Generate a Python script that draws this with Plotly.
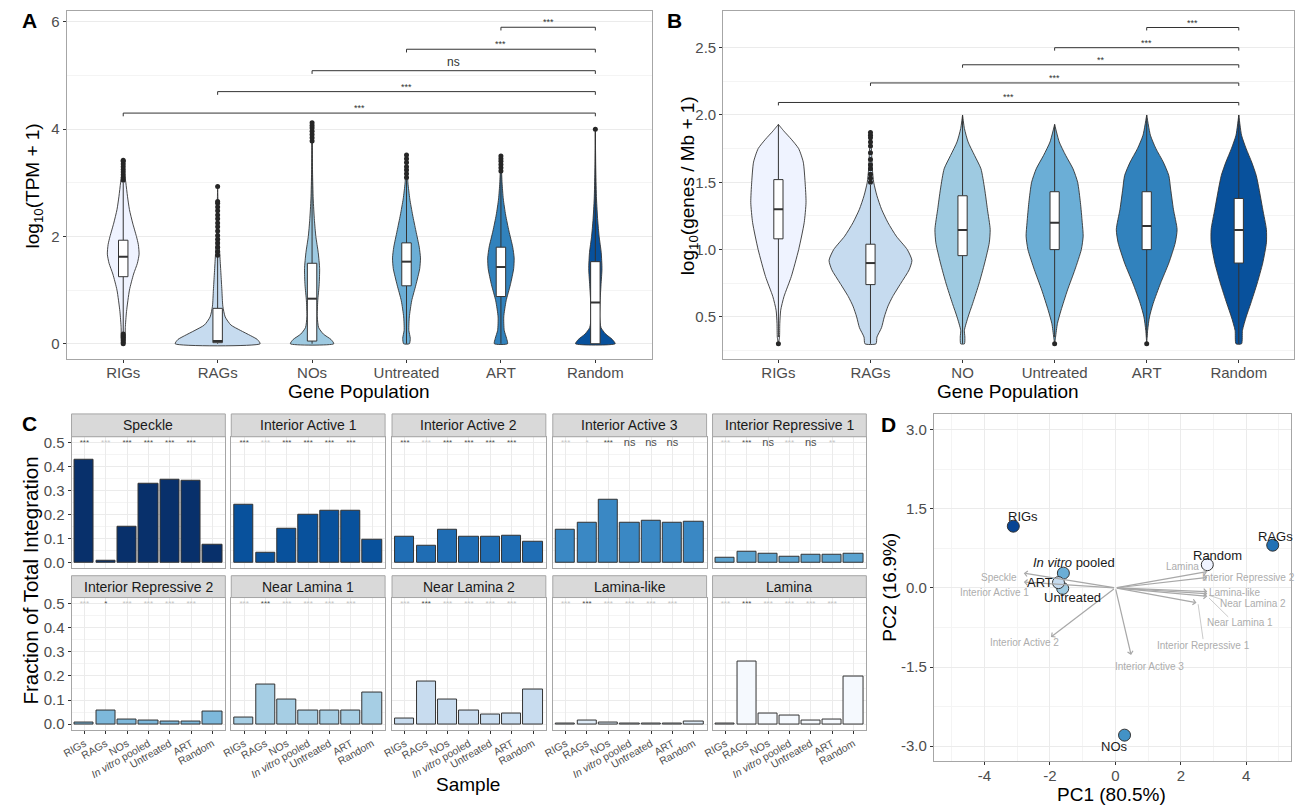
import plotly.graph_objects as go

# ---------------- DATA ----------------
A_groups = ["RIGs", "RAGs", "NOs", "Untreated", "ART", "Random"]
B_groups = ["RIGs", "RAGs", "NO", "Untreated", "ART", "Random"]
AB_colors = ["#EFF3FF", "#C6DBEF", "#9ECAE1", "#6BAED6", "#3182BD", "#08519C"]

# Panel A violin profiles (value level, half-width in category units)
A_vy = {
    "RIGs": [0.0, 0.1, 0.3, 0.6, 1.0, 1.3, 1.5, 1.67, 1.85, 2.0, 2.25, 2.5, 2.75, 3.0, 3.2, 3.42],
    "RAGs": [0.0, 0.08, 0.15, 0.25, 0.35, 0.5, 0.7, 1.0, 1.3, 1.6, 2.0, 2.5, 2.93],
    "NOs": [0.0, 0.08, 0.18, 0.3, 0.5, 0.8, 1.1, 1.4, 1.7, 2.0, 2.3, 2.7, 3.2, 3.7, 4.12],
    "Untreated": [0.0, 0.1, 0.25, 0.5, 0.8, 1.1, 1.4, 1.6, 1.8, 2.1, 2.4, 2.7, 3.0, 3.3, 3.52],
    "ART": [0.0, 0.1, 0.25, 0.5, 0.8, 1.1, 1.4, 1.6, 1.8, 2.1, 2.4, 2.7, 3.0, 3.3, 3.5],
    "Random": [0.0, 0.08, 0.18, 0.3, 0.5, 0.8, 1.1, 1.4, 1.7, 2.0, 2.3, 2.7, 3.2, 3.6, 4.0],
}
A_vw = {
    "RIGs": [0.008, 0.02, 0.022, 0.035, 0.066, 0.11, 0.15, 0.168, 0.16, 0.14, 0.1, 0.066, 0.045, 0.028, 0.012, 0.0],
    "RAGs": [0.45, 0.42, 0.35, 0.24, 0.14, 0.08, 0.055, 0.045, 0.035, 0.025, 0.012, 0.005, 0.0],
    "NOs": [0.23, 0.2, 0.12, 0.07, 0.055, 0.06, 0.075, 0.08, 0.065, 0.04, 0.025, 0.012, 0.005, 0.002, 0.0],
    "Untreated": [0.03, 0.04, 0.025, 0.03, 0.055, 0.1, 0.14, 0.148, 0.135, 0.1, 0.065, 0.035, 0.015, 0.006, 0.0],
    "ART": [0.07, 0.06, 0.035, 0.03, 0.055, 0.1, 0.135, 0.14, 0.125, 0.085, 0.05, 0.025, 0.012, 0.005, 0.0],
    "Random": [0.21, 0.18, 0.11, 0.06, 0.045, 0.05, 0.06, 0.07, 0.062, 0.04, 0.025, 0.012, 0.005, 0.002, 0.0],
}
A_lf = [0.2, 0.0, 0.0, 0.0, 0.0, 0.0]
A_q1 = [1.25, 0.02, 0.05, 1.08, 0.88, 0.0]
A_med = [1.62, 0.05, 0.84, 1.53, 1.43, 0.77]
A_q3 = [1.93, 0.66, 1.5, 1.88, 1.8, 1.53]
A_uf = [3.0, 1.62, 3.75, 3.05, 3.2, 3.95]
A_out = {
    "RIGs": [3.05, 3.1, 3.15, 3.2, 3.25, 3.3, 3.35, 3.4, 3.42, 0.0, 0.03, 0.06, 0.09, 0.12, 0.15, 0.18],
    "RAGs": [1.65, 1.72, 1.8, 1.88, 1.95, 2.02, 2.1, 2.18, 2.25, 2.33, 2.4, 2.48, 2.55, 2.62, 2.65, 2.93],
    "NOs": [3.78, 3.84, 3.9, 3.96, 4.02, 4.07, 4.12],
    "Untreated": [3.1, 3.17, 3.24, 3.3, 3.38, 3.45, 3.52],
    "ART": [3.22, 3.28, 3.34, 3.4, 3.45, 3.5],
    "Random": [4.0],
}
A_br_start = [1, 2, 3, 4, 5]
A_br_y = [4.30, 4.70, 5.09, 5.49, 5.90]
A_br_lab = ["***", "***", "ns", "***", "***"]

# Panel B
B_vy = {
    "RIGs": [0.3, 0.35, 0.45, 0.55, 0.65, 0.8, 1.0, 1.2, 1.35, 1.5, 1.65, 1.75, 1.82, 1.88, 1.93],
    "RAGs": [0.3, 0.35, 0.42, 0.5, 0.58, 0.65, 0.75, 0.85, 0.92, 1.0, 1.1, 1.2, 1.3, 1.4, 1.5, 1.6, 1.75, 1.87],
    "NO": [0.3, 0.35, 0.4, 0.5, 0.6, 0.75, 0.9, 1.05, 1.15, 1.3, 1.45, 1.6, 1.7, 1.8, 1.9, 2.0],
    "Untreated": [0.3, 0.35, 0.45, 0.55, 0.7, 0.85, 1.0, 1.1, 1.2, 1.35, 1.5, 1.6, 1.7, 1.8, 1.93],
    "ART": [0.3, 0.4, 0.5, 0.6, 0.75, 0.9, 1.05, 1.15, 1.3, 1.45, 1.55, 1.65, 1.75, 1.85, 2.0],
    "Random": [0.3, 0.4, 0.5, 0.6, 0.75, 0.9, 1.05, 1.15, 1.3, 1.45, 1.55, 1.65, 1.75, 1.85, 2.0],
}
B_vw = {
    "RIGs": [0.0, 0.012, 0.015, 0.025, 0.06, 0.14, 0.22, 0.28, 0.30, 0.29, 0.27, 0.22, 0.14, 0.06, 0.0],
    "RAGs": [0.06, 0.07, 0.12, 0.15, 0.19, 0.24, 0.33, 0.42, 0.45, 0.40, 0.28, 0.19, 0.12, 0.07, 0.035, 0.02, 0.01, 0.0],
    "NO": [0.02, 0.025, 0.02, 0.06, 0.11, 0.18, 0.24, 0.29, 0.3, 0.27, 0.24, 0.2, 0.13, 0.06, 0.02, 0.0],
    "Untreated": [0.0, 0.01, 0.03, 0.07, 0.14, 0.22, 0.29, 0.31, 0.3, 0.28, 0.25, 0.2, 0.12, 0.05, 0.0],
    "ART": [0.0, 0.01, 0.03, 0.07, 0.15, 0.24, 0.31, 0.33, 0.29, 0.26, 0.24, 0.18, 0.1, 0.04, 0.0],
    "Random": [0.03, 0.04, 0.08, 0.13, 0.2, 0.26, 0.3, 0.3, 0.26, 0.22, 0.19, 0.14, 0.08, 0.03, 0.0],
}
B_lf = [0.35, 0.3, 0.3, 0.35, 0.35, 0.3]
B_q1 = [1.08, 0.74, 0.955, 1.0, 1.0, 0.9]
B_med = [1.30, 0.90, 1.145, 1.2, 1.175, 1.145]
B_q3 = [1.52, 1.04, 1.40, 1.43, 1.43, 1.38]
B_uf = [1.93, 1.48, 2.0, 1.93, 2.0, 2.0]
B_out = {
    "RIGs": [0.3],
    "RAGs": [1.5, 1.53, 1.56, 1.6, 1.63, 1.67, 1.72, 1.77, 1.8, 1.83, 1.85, 1.87],
    "NO": [],
    "Untreated": [0.3],
    "ART": [0.3],
    "Random": [],
}
B_br_start = [1, 2, 3, 4, 5]
B_br_y = [2.093, 2.238, 2.373, 2.50, 2.65]
B_br_lab = ["***", "***", "**", "***", "***"]

# Panel C
C_facets = ["Speckle", "Interior Active 1", "Interior Active 2", "Interior Active 3",
            "Interior Repressive 1", "Interior Repressive 2", "Near Lamina 1",
            "Near Lamina 2", "Lamina-like", "Lamina"]
C_samples = ["RIGs", "RAGs", "NOs", "<i>In vitro</i> pooled", "Untreated", "ART", "Random"]
C_colors = ["#08306B", "#08519C", "#1F6DB4", "#3A88C4", "#5BA3D0",
            "#7DB8DB", "#A6CEE4", "#C8DCEF", "#DEEBF7", "#F5F9FE"]
C_values = [
    [0.428, 0.008, 0.150, 0.327, 0.344, 0.341, 0.076],
    [0.240, 0.040, 0.140, 0.199, 0.214, 0.217, 0.094],
    [0.106, 0.068, 0.135, 0.109, 0.109, 0.112, 0.087],
    [0.137, 0.166, 0.264, 0.167, 0.173, 0.167, 0.171],
    [0.019, 0.043, 0.036, 0.025, 0.032, 0.032, 0.036],
    [0.007, 0.058, 0.019, 0.014, 0.010, 0.010, 0.054],
    [0.029, 0.164, 0.104, 0.058, 0.056, 0.056, 0.131],
    [0.025, 0.179, 0.104, 0.057, 0.040, 0.043, 0.143],
    [0.002, 0.014, 0.007, 0.004, 0.004, 0.004, 0.010],
    [0.005, 0.258, 0.043, 0.037, 0.017, 0.021, 0.199],
]
C_sig = [
    ["***"] * 6, ["***"] * 6, ["***"] * 6,
    ["***", "*", "***", "ns", "ns", "ns"],
    ["***", "***", "ns", "***", "ns", "**"],
    ["***", "*", "***", "***", "***", "***"],
    ["***"] * 6, ["***"] * 6, ["***"] * 6, ["***"] * 6,
]
C_sig_dark = [
    [1, 0, 1, 1, 1, 1], [1, 0, 1, 1, 1, 1], [1, 0, 1, 1, 1, 1],
    [0, 0, 1, 1, 1, 1],
    [0, 1, 1, 0, 1, 0],
    [0, 1, 0, 0, 0, 0],
    [0, 1, 0, 0, 0, 0], [0, 1, 0, 0, 0, 0], [0, 1, 0, 0, 0, 0], [0, 1, 0, 0, 0, 0],
]
C_sig_level = 0.5

# Panel D
D_names = ["RIGs", "RAGs", "NOs", "<i>In vitro</i> pooled", "Untreated", "ART", "Random"]
D_pc1 = [-3.12, 4.81, 0.28, -1.59, -1.61, -1.74, 2.81]
D_pc2 = [1.17, 0.81, -2.79, 0.28, -0.01, 0.10, 0.44]
D_colors = ["#084594", "#2171B5", "#4292C6", "#6BAED6", "#9ECAE1", "#C6DBEF", "#EFF3FF"]
D_lab_x = [-2.82, 4.88, -0.02, -1.26, -1.30, -2.29, 3.11]
D_lab_y = [1.35, 0.97, -3.0, 0.48, -0.19, 0.11, 0.61]
L_names = ["Speckle", "Interior Active 1", "Interior Active 2", "Interior Active 3",
           "Interior Repressive 1", "Interior Repressive 2", "Near Lamina 1",
           "Near Lamina 2", "Lamina-like", "Lamina"]
L_x = [-2.80, -2.80, -1.97, 0.48, 2.48, 2.81, 2.81, 2.81, 2.81, 2.81]
L_y = [0.28, 0.11, -0.93, -1.27, -0.28, 0.20, -0.16, -0.11, -0.07, 0.31]
L_lab_x = [-3.56, -3.70, -2.79, 1.04, 2.70, 4.07, 3.82, 4.20, 3.67, 2.05]
L_lab_y = [0.19, -0.08, -1.03, -1.49, -1.10, 0.19, -0.66, -0.29, -0.08, 0.41]
L_seg = {"Interior Repressive 1": (2.68, -0.97), "Near Lamina 1": (3.45, -0.55),
         "Near Lamina 2": (3.26, -0.22)}

# ---------------- LAYOUT HELPERS ----------------
W, H = 1297, 807
FONT = "Liberation Sans, Arial, Helvetica, sans-serif"
BORDER = "#A6A6A6"
GRID = "#EBEBEB"
GRIDMINOR = "#F4F4F4"
TICKC = "#4D4D4D"
BOX_HALF = 0.05


def px_x(a, b):
    return [a / W, b / W]


def px_y(top, bottom):
    return [1 - bottom / H, 1 - top / H]


def fx(x):
    return x / W


def fy(y):
    return 1 - y / H


fig = go.Figure()
annotations = []
shapes = []


def add_line(x, y, xa, ya, color="#333333", width=1.0, fill=None, fillcolor=None):
    fig.add_trace(go.Scatter(x=x, y=y, mode="lines", fill=fill, fillcolor=fillcolor,
                             line=dict(color=color, width=width), xaxis=xa, yaxis=ya,
                             hoverinfo="skip", showlegend=False))


def violin_panel(groups, vy, vw, lf, q1, med, q3, uf, outs, xa, ya):
    for i, g in enumerate(groups):
        pos = i + 1
        ys, ws = vy[g], vw[g]
        xs = [pos + w for w in ws] + [pos - w for w in ws[::-1]] + [pos + ws[0]]
        yy = ys + ys[::-1] + [ys[0]]
        fig.add_trace(go.Scatter(x=xs, y=yy, mode="lines", fill="toself",
                                 fillcolor=AB_colors[i],
                                 line=dict(color="#333333", width=0.9, shape="spline", smoothing=0.6),
                                 xaxis=xa, yaxis=ya, hoverinfo="skip", showlegend=False))
        # box plot drawn through the data axes
        add_line([pos, pos, None, pos, pos], [lf[i], q1[i], None, q3[i], uf[i]], xa, ya)
        add_line([pos - BOX_HALF, pos + BOX_HALF, pos + BOX_HALF, pos - BOX_HALF, pos - BOX_HALF],
                 [q1[i], q1[i], q3[i], q3[i], q1[i]], xa, ya, fill="toself", fillcolor="white")
        add_line([pos - BOX_HALF, pos + BOX_HALF], [med[i], med[i]], xa, ya, width=2)
        if outs[g]:
            fig.add_trace(go.Scatter(x=[pos] * len(outs[g]), y=outs[g], mode="markers",
                                     marker=dict(color="#262626", size=5),
                                     xaxis=xa, yaxis=ya, showlegend=False, hoverinfo="skip"))


def brackets(starts, ys, labs, end, tip, xa, ya):
    for s, y, lab in zip(starts, ys, labs):
        add_line([s, s, end, end], [y - tip, y, y, y - tip], xa, ya)
        annotations.append(dict(x=(s + end) / 2, y=y, xref=xa, yref=ya, text=lab,
                                showarrow=False, xanchor="center", yanchor="bottom",
                                yshift=0 if lab == "ns" else -2,
                                font=dict(size=12 if lab == "ns" else 9, color="#333333", family=FONT)))


violin_panel(A_groups, A_vy, A_vw, A_lf, A_q1, A_med, A_q3, A_uf, A_out, "x", "y")
brackets(A_br_start, A_br_y, A_br_lab, 6, 0.06, "x", "y")
violin_panel(B_groups, B_vy, B_vw, B_lf, B_q1, B_med, B_q3, B_uf, B_out, "x2", "y2")
brackets(B_br_start, B_br_y, B_br_lab, 6, 0.022, "x2", "y2")

layout_axes = {}
tickfont = dict(size=15, color=TICKC, family=FONT)
common = dict(showline=True, mirror=True, linecolor=BORDER, linewidth=1, zeroline=False,
              ticks="outside", ticklen=3, tickcolor="#333333", tickfont=tickfont)

layout_axes["xaxis"] = dict(common, domain=px_x(57, 647), range=[0.4, 6.6], tickvals=list(range(1, 7)),
                            ticktext=A_groups, showgrid=False, anchor="y", ticklabelstandoff=-3)
layout_axes["yaxis"] = dict(common, domain=px_y(8, 358.7), range=[-0.285, 6.204], tickvals=[0, 2, 4, 6],
                            gridcolor=GRID, showgrid=True, anchor="x",
                            minor=dict(tickvals=[1, 3, 5], showgrid=True, gridcolor=GRIDMINOR, ticks=""))
layout_axes["xaxis2"] = dict(common, domain=px_x(718.7, 1294), range=[0.4, 6.6], tickvals=list(range(1, 7)),
                             ticktext=B_groups, showgrid=False, anchor="y2", ticklabelstandoff=-3)
layout_axes["yaxis2"] = dict(common, domain=px_y(8, 358.7), range=[0.187, 2.773],
                             tickvals=[0.5, 1.0, 1.5, 2.0, 2.5], ticktext=["0.5", "1.0", "1.5", "2.0", "2.5"],
                             gridcolor=GRID, showgrid=True, anchor="x2",
                             minor=dict(tickvals=[0.25, 0.75, 1.25, 1.75, 2.25], showgrid=True,
                                        gridcolor=GRIDMINOR, ticks=""))

# Panel C facets
colx = [(62, 217), (223, 378), (385, 540), (547, 702), (708, 863)]
row_panel = [(437, 569), (599, 732)]
row_strip = [(414, 437), (577, 599)]
for k, facet in enumerate(C_facets):
    r, c = divmod(k, 5)
    n = 3 + k
    xa, ya = "x%d" % n, "y%d" % n
    fig.add_trace(go.Bar(x=list(range(1, 8)), y=C_values[k], width=0.9,
                         marker=dict(color=C_colors[k], line=dict(color="#333333", width=1)),
                         xaxis=xa, yaxis=ya, showlegend=False, hoverinfo="skip"))
    fig.add_trace(go.Scatter(x=list(range(1, 7)), y=[C_sig_level] * 6, mode="text",
                             text=C_sig[k],
                             textfont=dict(size=[11 if s == "ns" else 8 for s in C_sig[k]],
                                           color=["#4D4D4D" if d else "#C4C4C4" for d in C_sig_dark[k]],
                                           family=FONT),
                             xaxis=xa, yaxis=ya, showlegend=False, hoverinfo="skip"))
    layout_axes["xaxis%d" % n] = dict(common, domain=px_x(*colx[c]), range=[0.4, 7.6],
                                      tickvals=list(range(1, 8)), ticktext=C_samples,
                                      showticklabels=(r == 1), ticks="outside" if r == 1 else "",
                                      tickangle=-30, tickfont=dict(size=10.5, color=TICKC, family=FONT),
                                      showgrid=True, gridcolor=GRID, anchor=ya)
    layout_axes["yaxis%d" % n] = dict(common, domain=px_y(*row_panel[r]), range=[-0.022, 0.525],
                                      tickvals=[0, 0.1, 0.2, 0.3, 0.4, 0.5],
                                      ticktext=["0.0", "0.1", "0.2", "0.3", "0.4", "0.5"],
                                      showticklabels=(c == 0), ticks="outside" if c == 0 else "",
                                      showgrid=True, gridcolor=GRID, anchor=xa,
                                      minor=dict(tickvals=[0.05, 0.15, 0.25, 0.35, 0.45], showgrid=True,
                                                 gridcolor=GRIDMINOR, ticks=""))
    st, sb = row_strip[r]
    shapes.append(dict(type="rect", xref="paper", yref="paper", x0=fx(colx[c][0]), x1=fx(colx[c][1]),
                       y0=fy(sb), y1=fy(st), fillcolor="#D9D9D9", line=dict(color=BORDER, width=1)))
    annotations.append(dict(x=fx((colx[c][0] + colx[c][1]) / 2), y=fy((st + sb) / 2), xref="paper",
                            yref="paper", text=facet, showarrow=False, xanchor="center", yanchor="middle",
                            font=dict(size=14, color="#1A1A1A", family=FONT)))

# Panel D
layout_axes["xaxis13"] = dict(common, domain=px_x(931, 1291), range=[-5.55, 5.37],
                              tickvals=[-4, -2, 0, 2, 4], ticktext=["-4", "-2", "0", "2", "4"],
                              showgrid=True, gridcolor=GRID, anchor="y13", ticklabelstandoff=-2,
                              minor=dict(tickvals=[-5, -3, -1, 1, 3, 5], showgrid=True,
                                         gridcolor=GRIDMINOR, ticks=""))
layout_axes["yaxis13"] = dict(common, domain=px_y(414, 764), range=[-3.286, 3.297],
                              tickvals=[-3, -1.5, 0, 1.5, 3], ticktext=["-3.0", "-1.5", "0.0", "1.5", "3.0"],
                              showgrid=True, gridcolor=GRID, anchor="x13",
                              minor=dict(tickvals=[-2.25, -0.75, 0.75, 2.25], showgrid=True,
                                         gridcolor=GRIDMINOR, ticks=""))

for nm, (sx, sy) in L_seg.items():
    i = L_names.index(nm)
    add_line([L_x[i] + 0.05, sx], [L_y[i] - 0.03, sy], "x13", "y13", color="#BDBDBD", width=0.8)
for i, nm in enumerate(L_names):
    annotations.append(dict(x=L_x[i], y=L_y[i], ax=0, ay=0, xref="x13", yref="y13", axref="x13",
                            ayref="y13", text="", showarrow=True, arrowhead=4, arrowsize=0.9,
                            arrowwidth=1.2, arrowcolor="#A8A8A8"))
    annotations.append(dict(x=L_lab_x[i], y=L_lab_y[i], xref="x13", yref="y13", text=nm,
                            showarrow=False, xanchor="center", yanchor="middle",
                            font=dict(size=10, color="#ADADAD", family=FONT)))

fig.add_trace(go.Scatter(x=D_pc1, y=D_pc2, mode="markers",
                         marker=dict(size=12, color=D_colors, line=dict(color="#333333", width=1)),
                         xaxis="x13", yaxis="y13", showlegend=False, hoverinfo="skip"))
for i, nm in enumerate(D_names):
    annotations.append(dict(x=D_lab_x[i], y=D_lab_y[i], xref="x13", yref="y13", text=nm,
                            showarrow=False, xanchor="center", yanchor="middle",
                            font=dict(size=13, color="#1A1A1A", family=FONT)))


# Titles and panel letters
def title(text, x, y, angle=0, size=19):
    annotations.append(dict(x=fx(x), y=fy(y), xref="paper", yref="paper", text=text, showarrow=False,
                            xanchor="center", yanchor="middle", textangle=angle,
                            font=dict(size=size, color="#000000", family=FONT)))


title("log<sub>10</sub>(TPM + 1)", 24, 184, -90)
title("Gene Population", 352, 391)
title("log<sub>10</sub>(genes / Mb + 1)", 684, 184, -90)
title("Gene Population", 1006, 391)
title("Fraction of Total Integration", 21, 582, -90, 20.5)
title("Sample", 462, 787)
title("PC1 (80.5%)", 1110, 797)
title("PC2 (16.9%)", 886, 589, -90)

for lab, x, y in [("A", 20, 18), ("B", 670, 18), ("C", 20, 424), ("D", 885, 425)]:
    annotations.append(dict(x=fx(x), y=fy(y), xref="paper", yref="paper", text="<b>%s</b>" % lab,
                            showarrow=False, xanchor="center", yanchor="middle",
                            font=dict(size=21, color="#000000", family=FONT)))

fig.update_layout(width=W, height=H, margin=dict(l=0, r=0, t=0, b=0), paper_bgcolor="white",
                  plot_bgcolor="white", font=dict(family=FONT), showlegend=False,
                  annotations=annotations, shapes=shapes, bargap=0, **layout_axes)
fig.write_html("out.html")
